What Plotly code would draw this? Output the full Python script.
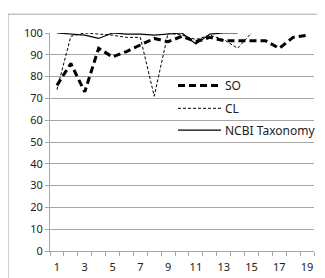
import plotly.graph_objects as go

categories = list(range(1, 20))
so_values = [76, 86, 73, 93, 89, 91.5, 94.5, 97.5, 96, 98.5, 96, 98, 96.5, 96.5, 96.5, 96.5, 93, 98, 99]
cl_categories = list(range(1, 16))
cl_values = [74, 98.5, 100, 99.5, 99, 98, 98, 71, 100, 99, 97, 99, 97, 93, 100]
ncbi_categories = list(range(1, 15))
ncbi_values = [100, 99.5, 99, 97.5, 100, 99.5, 99.5, 99, 99.5, 100, 95, 99.5, 100, 100]
x_tick_labels = [str(v) for v in range(1, 20, 2)]
y_ticks = list(range(0, 101, 10))
legend_names = ["SO", "CL", "NCBI Taxonomy"]

# page offset (body margin of the html page)
OFF = 8
W, H = 325, 278
# plot area in page pixels: x 50..314, y 33..253
L, T = 50 - OFF, 33 - OFF
R = W - (314 - OFF)
B = H - (253 - OFF)
pw, ph = W - L - R, H - T - B

def px_to_paper_x(px):
    return (px - OFF - L) / pw

def px_to_paper_y(py):
    return (H - B - (py - OFF)) / ph

styles = [
    dict(color="black", width=3, dash="7px,4px"),
    dict(color="black", width=1, dash="3px,2px"),
    dict(color="black", width=1.2, dash="solid"),
]

fig = go.Figure()
fig.add_trace(go.Scatter(x=categories, y=so_values, mode="lines", line=styles[0], name=legend_names[0], showlegend=False))
fig.add_trace(go.Scatter(x=cl_categories, y=cl_values, mode="lines", line=styles[1], name=legend_names[1], showlegend=False))
fig.add_trace(go.Scatter(x=ncbi_categories, y=ncbi_values, mode="lines", line=styles[2], name=legend_names[2], showlegend=False))

grid = "#a6a6a6"
font = dict(family="Noto Sans, Liberation Sans, sans-serif", size=11, color="#222222")

# outer chart border (cropped at right and bottom)
fig.add_shape(type="rect", xref="paper", yref="paper",
              x0=px_to_paper_x(8), x1=px_to_paper_x(345),
              y0=px_to_paper_y(300), y1=px_to_paper_y(14),
              line=dict(color=grid, width=1), fillcolor="rgba(0,0,0,0)", layer="below")

# manual legend
leg_y = [86, 109, 131]
for name, st, yy in zip(legend_names, styles, leg_y):
    fig.add_shape(type="line", xref="paper", yref="paper",
                  x0=px_to_paper_x(178), x1=px_to_paper_x(221),
                  y0=px_to_paper_y(yy), y1=px_to_paper_y(yy), line=st)
    fig.add_annotation(xref="paper", yref="paper", x=px_to_paper_x(223), y=px_to_paper_y(yy),
                       text=name, showarrow=False, xanchor="left", yanchor="middle",
                       font=dict(family=font["family"], size=12, color="#222222"))

fig.update_layout(
    width=W, height=H,
    margin=dict(l=L, r=R, t=T, b=B),
    plot_bgcolor="white", paper_bgcolor="white",
    font=font,
    showlegend=False,
)
fig.update_xaxes(
    range=[0.5, 19.5], tickmode="array",
    tickvals=list(range(1, 20, 2)), ticktext=x_tick_labels,
    ticks="", showgrid=False, zeroline=False,
    showline=True, linecolor=grid, linewidth=1,
    minor=dict(tickmode="linear", tick0=0.5, dtick=1, ticks="outside", ticklen=4, tickcolor=grid, showgrid=False),
    tickfont=font, ticklabelstandoff=6,
)
fig.update_yaxes(
    range=[0, 100], tickmode="array", tickvals=y_ticks,
    ticks="outside", ticklen=4, tickcolor=grid,
    showgrid=True, gridcolor=grid, gridwidth=1, zeroline=False,
    showline=True, linecolor=grid, linewidth=1,
    tickfont=font,
)

fig.write_html("out.html")
